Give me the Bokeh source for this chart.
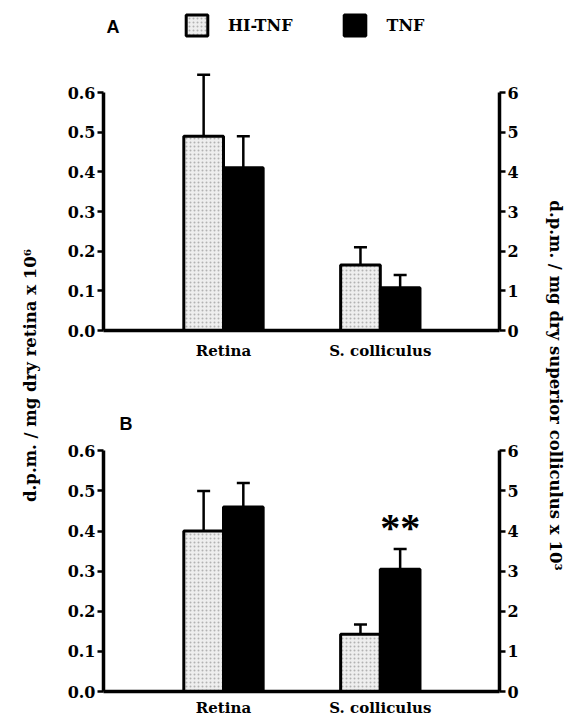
import math
from bokeh.plotting import figure
from bokeh.models import (ColumnDataSource, Range1d, LinearAxis, FixedTicker, Whisker,
                          TeeHead, Legend, LegendItem, Label, PrintfTickFormatter)
from bokeh.layouts import row, column
from bokeh.embed import file_html
from bokeh.resources import INLINE
from bokeh.core.properties import value

# ---------------- data ----------------
categories = ["Retina", "S. colliculus"]
cat_x = [1, 2]
series = ["HI-TNF", "TNF"]

# Panel A (Retina read on left axis, S. colliculus on right axis)
a_hi = [0.49, 1.65]
a_hi_err = [0.155, 0.45]
a_tnf = [0.41, 1.08]
a_tnf_err = [0.08, 0.32]

# Panel B
b_hi = [0.40, 1.43]
b_hi_err = [0.10, 0.24]
b_tnf = [0.46, 3.05]
b_tnf_err = [0.06, 0.50]
b_sig = ["", "**"]

left_ticks = [0.0, 0.1, 0.2, 0.3, 0.4, 0.5, 0.6]
right_ticks = [0, 1, 2, 3, 4, 5, 6]
left_label = "d.p.m. / mg dry retina x 10\u2076"
right_label = "d.p.m. / mg dry superior colliculus x 10\u00b3"

# ---------------- style ----------------
SERIF = "DejaVu Serif"
HI_FILL = "#eeeeee"
W_L, W_M, W_R = 44, 496, 36
H_A, H_B = 372, 347
H_TOT = H_A + H_B

X_START, X_END = 0.235, 2.76
BAR_W = 0.253
OFF = BAR_W / 2


def style_axis(ax, fmt):
    ax.axis_line_width = 3.5
    ax.axis_line_color = "black"
    ax.major_tick_line_width = 2.5
    ax.major_tick_line_color = "black"
    ax.major_tick_in = 0
    ax.major_tick_out = 6
    ax.minor_tick_line_color = None
    ax.major_label_text_font = SERIF
    ax.major_label_text_font_style = "bold"
    ax.major_label_text_font_size = "16px"
    ax.major_label_text_color = "black"
    ax.major_label_standoff = 2
    ax.formatter = PrintfTickFormatter(format=fmt)


def make_panel(hi, hi_err, tnf, tnf_err, height, borders, data_px, letter, letter_xy,
               legend_spec=None, sig=None, label_standoff=5):
    bl, br, bt, bb = borders
    frame_h = height - bt - bb
    yl_end = left_ticks[-1] * frame_h / data_px
    yr_end = right_ticks[-1] * frame_h / data_px
    p = figure(width=W_M, height=height, output_backend="svg", toolbar_location=None,
               x_range=Range1d(X_START, X_END), y_range=Range1d(0, yl_end),
               min_border_left=bl, min_border_right=br, min_border_top=bt,
               min_border_bottom=bb)
    p.extra_y_ranges = {"right": Range1d(0, yr_end)}
    p.outline_line_color = None
    p.xgrid.visible = False
    p.ygrid.visible = False
    p.background_fill_color = "white"
    p.border_fill_color = "white"

    # left axis
    ly = p.yaxis[0]
    ly.ticker = FixedTicker(ticks=left_ticks)
    ly.bounds = (left_ticks[0], left_ticks[-1])
    style_axis(ly, "%.1f")
    # right axis
    ry = LinearAxis(y_range_name="right", ticker=FixedTicker(ticks=right_ticks),
                    bounds=(right_ticks[0], right_ticks[-1]))
    style_axis(ry, "%d")
    p.add_layout(ry, "right")
    # bottom axis
    bx = p.xaxis[0]
    bx.ticker = FixedTicker(ticks=cat_x)
    bx.major_label_overrides = {cx: c for cx, c in zip(cat_x, categories)}
    bx.axis_line_width = 3.5
    bx.axis_line_color = "black"
    bx.major_tick_line_color = None
    bx.major_tick_out = 0
    bx.major_tick_in = 0
    bx.minor_tick_line_color = None
    bx.major_label_text_font = SERIF
    bx.major_label_text_font_style = "bold"
    bx.major_label_text_font_size = "15px"
    bx.major_label_text_color = "black"
    bx.major_label_standoff = label_standoff

    renderers = {}
    for i, rname in enumerate(["default", "right"]):
        src = ColumnDataSource(dict(
            xh=[cat_x[i] - OFF], xt=[cat_x[i] + OFF],
            hi=[hi[i]], hi_top=[hi[i] + hi_err[i]],
            tnf=[tnf[i]], tnf_top=[tnf[i] + tnf_err[i]],
            sig=[sig[i] if sig else ""]))
        r_hi = p.vbar(x="xh", top="hi", bottom=0, width=BAR_W, source=src,
                      y_range_name=rname, fill_color=HI_FILL, line_color="black",
                      line_width=3, hatch_pattern="dot", hatch_color="#8a8a8a",
                      hatch_scale=4, hatch_weight=1, hatch_alpha=0.6)
        r_tnf = p.vbar(x="xt", top="tnf", bottom=0, width=BAR_W, source=src,
                       y_range_name=rname, fill_color="black", line_color="black",
                       line_width=3)
        for base, lo, up in [("xh", "hi", "hi_top"), ("xt", "tnf", "tnf_top")]:
            w = Whisker(source=src, base=base, lower=lo, upper=up, dimension="height",
                        line_width=2.5, line_color="black", lower_head=None,
                        upper_head=TeeHead(size=13, line_width=2.5, line_color="black"),
                        y_range_name=rname)
            p.add_layout(w)
        if sig:
            p.text(x="xt", y="tnf_top", text="sig", source=src, y_range_name=rname,
                   text_font=value("Liberation Serif"), text_font_style="bold",
                   text_font_size="40px", text_align="center", text_baseline="bottom",
                   y_offset=1, text_color="black")
        renderers[rname] = (r_hi, r_tnf)

    if legend_spec:
        lx, lyy = legend_spec
        r_hi, r_tnf = renderers["default"]
        leg = Legend(items=[LegendItem(label=series[0], renderers=[r_hi]),
                            LegendItem(label=series[1], renderers=[r_tnf])],
                     location=(lx, lyy), orientation="horizontal",
                     glyph_width=27, glyph_height=26, label_height=26,
                     label_standoff=18, spacing=49, padding=0, margin=0,
                     border_line_color=None, background_fill_alpha=0,
                     label_text_font=SERIF, label_text_font_style="bold",
                     label_text_font_size="16px", label_text_color="black")
        p.add_layout(leg, "center")

    p.add_layout(Label(x=letter_xy[0], y=letter_xy[1], x_units="screen", y_units="screen",
                       text=letter, text_font="Liberation Sans", text_font_style="bold",
                       text_font_size="18px", text_baseline="middle", text_color="black"))
    return p


# borders: (left, right, top, bottom) in px; data_px = pixel height of the full axis
pa = make_panel(a_hi, a_hi_err, a_tnf, a_tnf_err, H_A, (56, 41, 8, 42), 238,
                "A", (3, 304), legend_spec=(80, 292), label_standoff=11)
pb = make_panel(b_hi, b_hi_err, b_tnf, b_tnf_err, H_B, (59, 38, 8, 25), 243,
                "B", (16, 268), sig=b_sig, label_standoff=7)


def label_fig(width, text, cx, cy_from_top, angle):
    f = figure(width=width, height=H_TOT, output_backend="svg", toolbar_location=None,
               x_range=Range1d(0, width), y_range=Range1d(0, H_TOT), min_border=0)
    f.axis.visible = False
    f.grid.visible = False
    f.outline_line_color = None
    f.add_layout(Label(x=cx, y=H_TOT - cy_from_top, x_units="screen", y_units="screen",
                       text=text, angle=angle, text_align="center", text_baseline="middle",
                       text_font=SERIF, text_font_style="bold", text_font_size="16.5px",
                       text_color="black"))
    return f


fl = label_fig(W_L, left_label, 29.5, 375, math.pi / 2)
fr = label_fig(W_R, right_label, 15, 385, -math.pi / 2)

layout = row(fl, column(pa, pb), fr)
open("out.html", "w").write(file_html(layout, INLINE))
